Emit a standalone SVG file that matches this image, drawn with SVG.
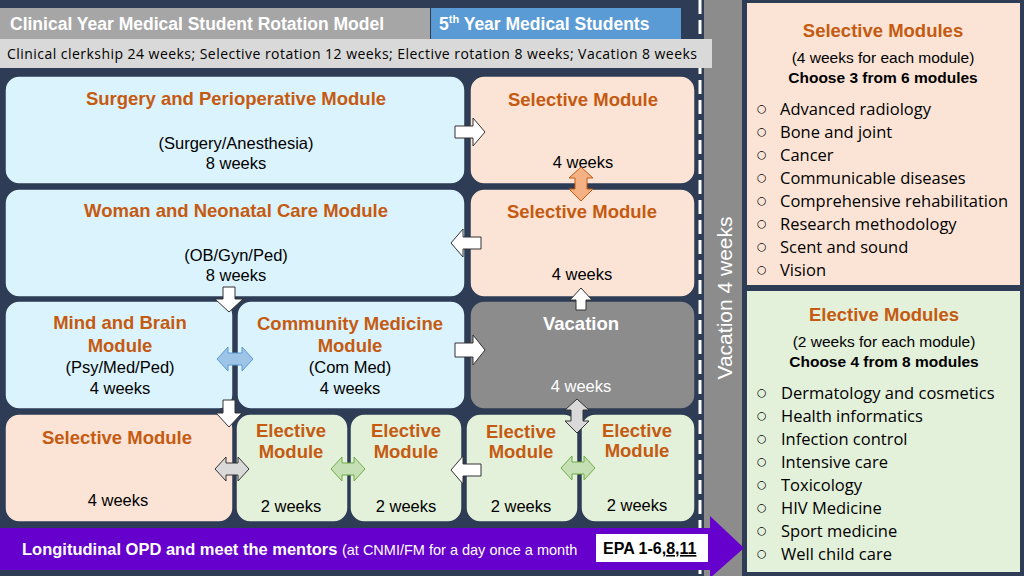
<svg xmlns="http://www.w3.org/2000/svg" width="1024" height="576" viewBox="0 0 1024 576">
<style>
.b{stroke:#2e3d55;stroke-width:1.5}
.blue{fill:#dbf3fd}.peach{fill:#fbe4d6}.green{fill:#e3f0da}.grey{fill:#8c8c8c}
.t{font-family:"Liberation Sans",Arial,sans-serif;font-weight:bold;fill:#c55a11;text-anchor:middle;font-size:18.5px}
.s{font-family:"Liberation Sans",Arial,sans-serif;fill:#000;text-anchor:middle;font-size:16.5px}
.l{font-family:"Open Sans","DejaVu Sans",sans-serif;fill:#000;font-size:16.5px}
.c{font-size:11px}
.wa{fill:#fff;stroke:#333;stroke-width:1}
</style>
<rect width="1024" height="576" fill="#2e3d55"/>
<rect x="704" y="0" width="38" height="576" fill="#8c8c8c"/>
<line x1="700" y1="0" x2="700" y2="576" stroke="#fff" stroke-width="3" stroke-dasharray="14,6"/>
<text transform="translate(732,298) rotate(-90)" text-anchor="middle" font-family="Liberation Sans,Arial,sans-serif" font-size="21" fill="#fff">Vacation 4 weeks</text>
<g id="header">
<rect x="0" y="8" width="430" height="31" fill="#a6a6a6"/>
<text x="10" y="30" font-family="Liberation Sans,Arial,sans-serif" font-size="17.5" font-weight="bold" fill="#fff">Clinical Year Medical Student Rotation Model</text>
<rect x="431" y="8" width="250" height="31" fill="#5b9bd5"/>
<text x="439" y="30" font-family="Liberation Sans,Arial,sans-serif" font-size="17.5" font-weight="bold" fill="#fff">5<tspan font-size="11" dy="-7">th</tspan><tspan dy="7"> Year Medical Students</tspan></text>
<rect x="0" y="39" width="712" height="29" fill="#d9d9d9"/>
<text x="7" y="59" font-family="Open Sans,DejaVu Sans,sans-serif" font-size="14" fill="#000" textLength="690">Clinical clerkship 24 weeks; Selective rotation 12 weeks; Elective rotation 8 weeks; Vacation 8 weeks</text>
</g>
<g id="surgery"><rect class="b blue" x="5" y="76" width="460" height="108" rx="14"/>
<text class="t" x="236" y="105">Surgery and Perioperative Module</text>
<text class="s" x="236" y="149">(Surgery/Anesthesia)</text><text class="s" x="236" y="169">8 weeks</text></g>
<g id="sel1"><rect class="b peach" x="470" y="76" width="225" height="108" rx="14"/>
<text class="t" x="583" y="106">Selective Module</text><text class="s" x="583" y="168">4 weeks</text></g>
<g id="woman"><rect class="b blue" x="5" y="189" width="460" height="108" rx="14"/>
<text class="t" x="236" y="217">Woman and Neonatal Care Module</text>
<text class="s" x="236" y="261">(OB/Gyn/Ped)</text><text class="s" x="236" y="281">8 weeks</text></g>
<g id="sel2"><rect class="b peach" x="470" y="189" width="225" height="108" rx="14"/>
<text class="t" x="582" y="218">Selective Module</text><text class="s" x="582" y="280">4 weeks</text></g>
<g id="mind"><rect class="b blue" x="5" y="301" width="228" height="108" rx="14"/>
<text class="t" x="120" y="329">Mind and Brain</text><text class="t" x="120" y="352">Module</text>
<text class="s" x="120" y="373">(Psy/Med/Ped)</text><text class="s" x="120" y="394">4 weeks</text></g>
<g id="community"><rect class="b blue" x="237" y="301" width="228" height="108" rx="14"/>
<text class="t" x="350" y="330">Community Medicine</text><text class="t" x="350" y="352">Module</text>
<text class="s" x="350" y="373">(Com Med)</text><text class="s" x="350" y="394">4 weeks</text></g>
<g id="vacation"><rect class="b grey" x="470" y="301" width="225" height="108" rx="14"/>
<text class="t" x="581" y="330" style="fill:#fff">Vacation</text><text class="s" x="581" y="392" style="fill:#fff">4 weeks</text></g>
<g id="sel3"><rect class="b peach" x="5" y="414" width="228" height="108" rx="14"/>
<text class="t" x="117" y="444">Selective Module</text><text class="s" x="118" y="506">4 weeks</text></g>
<g id="el1"><rect class="b green" x="236" y="414" width="112" height="108" rx="14"/>
<text class="t" x="291" y="437">Elective</text><text class="t" x="291" y="458">Module</text><text class="s" x="291" y="512" font-size="15">2 weeks</text></g>
<g id="el2"><rect class="b green" x="350" y="414" width="112" height="108" rx="14"/>
<text class="t" x="406" y="437">Elective</text><text class="t" x="406" y="458">Module</text><text class="s" x="406" y="512" font-size="15">2 weeks</text></g>
<g id="el3"><rect class="b green" x="466" y="414" width="112" height="108" rx="14"/>
<text class="t" x="521" y="438">Elective</text><text class="t" x="521" y="458">Module</text><text class="s" x="521" y="512" font-size="15">2 weeks</text></g>
<g id="el4"><rect class="b green" x="581" y="414" width="114" height="108" rx="14"/>
<text class="t" x="637" y="437">Elective</text><text class="t" x="637" y="457">Module</text><text class="s" x="637" y="511" font-size="15">2 weeks</text></g>
<g id="opd">
<polygon points="0,528 710,528 710,516 744,548 710,578 710,570 0,570" fill="#6600cc"/>
<text x="22" y="555" font-family="Liberation Sans,Arial,sans-serif" font-size="16.5" font-weight="bold" fill="#fff">Longitudinal OPD and meet the mentors <tspan font-weight="normal" font-size="14.5">(at CNMI/FM for a day once a month</tspan></text>
<rect x="596" y="534" width="112" height="28" fill="#fff"/>
<text x="603" y="554" font-family="Liberation Sans,Arial,sans-serif" font-size="16" font-weight="bold" fill="#000">EPA 1-6,<tspan text-decoration="underline">8,11</tspan></text>
</g>
<g id="connectors">
<polygon class="wa" points="455,126 473,126 473,118 485,132 473,146 473,138 455,138"/>
<polygon class="wa" points="481,237 463,237 463,229 451,243 463,257 463,249 481,249"/>
<polygon class="wa" points="455,343 473,343 473,335 485,350 473,365 473,357 455,357"/>
<polygon class="wa" points="481,464 463,464 463,456 451,470 463,484 463,476 481,476"/>
<polygon class="wa" points="229,287 229,299 221,299 235,312 249,299 241,299 241,287" transform="translate(-6,0)"/>
<polygon class="wa" points="223,400 223,413 216,413 229,427 242,413 235,413 235,400"/>
<polygon class="wa" points="576,310 576,300 570,300 581,288 592,300 586,300 586,310"/>
<polygon fill="#f4b183" stroke="#c55a11" stroke-width="1" points="581,167 593,178 587,178 587,189 593,189 581,201 569,189 575,189 575,178 569,178"/>
<polygon fill="#d9d9d9" stroke="#333" stroke-width="1" points="577,399 589,410 583,410 583,421 589,421 577,433 565,421 571,421 571,410 565,410"/>
<polygon fill="#9dc3e6" stroke="#5b9bd5" stroke-width="1" points="217,359 228,347 228,353 242,353 242,347 253,359 242,371 242,365 228,365 228,371"/>
<polygon fill="#d9d9d9" stroke="#333" stroke-width="1" points="215,469 226,457 226,463 238,463 238,457 249,469 238,481 238,475 226,475 226,481"/>
<polygon fill="#c5e0b4" stroke="#70ad47" stroke-width="1" points="331,469 342,457 342,463 354,463 354,457 365,469 354,481 354,475 342,475 342,481"/>
<polygon fill="#c5e0b4" stroke="#70ad47" stroke-width="1" points="561,468 572,456 572,462 584,462 584,456 595,468 584,480 584,474 572,474 572,480"/>
</g>
<g id="selectiveList">
<rect x="747" y="3" width="273" height="282" fill="#fbe4d6"/>
<text class="t" x="883" y="37">Selective Modules</text>
<text x="883" y="63" text-anchor="middle" font-family="Liberation Sans,Arial,sans-serif" font-size="15.5">(4 weeks for each module)</text>
<text x="883" y="83" text-anchor="middle" font-family="Liberation Sans,Arial,sans-serif" font-size="15.5" font-weight="bold">Choose 3 from 6 modules</text>
<g class="l">
<text class="c" x="757" y="112">○</text><text x="780" y="115">Advanced radiology</text>
<text class="c" x="757" y="135">○</text><text x="780" y="138">Bone and joint</text>
<text class="c" x="757" y="158">○</text><text x="780" y="161">Cancer</text>
<text class="c" x="757" y="181">○</text><text x="780" y="184">Communicable diseases</text>
<text class="c" x="757" y="204">○</text><text x="780" y="207">Comprehensive rehabilitation</text>
<text class="c" x="757" y="227">○</text><text x="780" y="230">Research methodology</text>
<text class="c" x="757" y="250">○</text><text x="780" y="253">Scent and sound</text>
<text class="c" x="757" y="273">○</text><text x="780" y="276">Vision</text>
</g>
</g>
<g id="electiveList">
<rect x="747" y="291" width="273" height="281" fill="#e3f0da"/>
<text class="t" x="884" y="321">Elective Modules</text>
<text x="884" y="347" text-anchor="middle" font-family="Liberation Sans,Arial,sans-serif" font-size="15.5">(2 weeks for each module)</text>
<text x="884" y="367" text-anchor="middle" font-family="Liberation Sans,Arial,sans-serif" font-size="15.5" font-weight="bold">Choose 4 from 8 modules</text>
<g class="l">
<text class="c" x="757" y="396">○</text><text x="781" y="399">Dermatology and cosmetics</text>
<text class="c" x="757" y="419">○</text><text x="781" y="422">Health informatics</text>
<text class="c" x="757" y="442">○</text><text x="781" y="445">Infection control</text>
<text class="c" x="757" y="465">○</text><text x="781" y="468">Intensive care</text>
<text class="c" x="757" y="488">○</text><text x="781" y="491">Toxicology</text>
<text class="c" x="757" y="511">○</text><text x="781" y="514">HIV Medicine</text>
<text class="c" x="757" y="534">○</text><text x="781" y="537">Sport medicine</text>
<text class="c" x="757" y="557">○</text><text x="781" y="560">Well child care</text>
</g>
</g>
</svg>
